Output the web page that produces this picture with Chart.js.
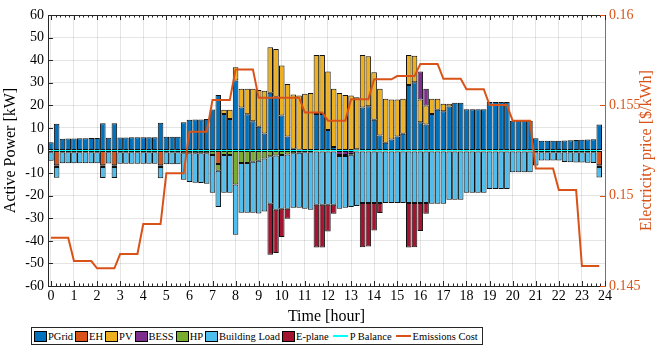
<!DOCTYPE html>
<html>
<head>
<meta charset="utf-8">
<script src="https://cdn.jsdelivr.net/npm/chart.js@4.4.1/dist/chart.umd.min.js"></script>
<style>
  body { margin: 0; background: #fff; }
  #wrap { position: relative; width: 656px; height: 349px; }
  #legend {
    position: absolute; left: 31px; top: 327px; height: 18px;
    box-sizing: border-box; border: 1px solid #262626; background: #fff;
    display: flex; align-items: center; padding: 0 2px;
    font: 10.5px 'Liberation Serif', serif; white-space: nowrap; color: #000;
  }
  .item { display: flex; align-items: center; margin-right: 2px; }
  .box { width: 13px; height: 11px; box-sizing: border-box; border: 1px solid #000; margin-right: 1px; }
  .ln { width: 15px; height: 2px; margin: 0 2px 0 2px; }
</style>
</head>
<body>
<div id="wrap">
  <canvas id="chart" width="656" height="349"></canvas>
  <div id="legend"></div>
</div>
<script>
// quarter-hour time steps [hour]
const time = [
  0, 0.25, 0.5, 0.75, 1, 1.25, 1.5, 1.75,
  2, 2.25, 2.5, 2.75, 3, 3.25, 3.5, 3.75,
  4, 4.25, 4.5, 4.75, 5, 5.25, 5.5, 5.75,
  6, 6.25, 6.5, 6.75, 7, 7.25, 7.5, 7.75,
  8, 8.25, 8.5, 8.75, 9, 9.25, 9.5, 9.75,
  10, 10.25, 10.5, 10.75, 11, 11.25, 11.5, 11.75,
  12, 12.25, 12.5, 12.75, 13, 13.25, 13.5, 13.75,
  14, 14.25, 14.5, 14.75, 15, 15.25, 15.5, 15.75,
  16, 16.25, 16.5, 16.75, 17, 17.25, 17.5, 17.75,
  18, 18.25, 18.5, 18.75, 19, 19.25, 19.5, 19.75,
  20, 20.25, 20.5, 20.75, 21, 21.25, 21.5, 21.75,
  22, 22.25, 22.5, 22.75, 23, 23.25, 23.5, 23.75
];

// power flows [kW]
const pGrid = [
  3.7, 11.8, 5.2, 5.3, 5.3, 5.4, 5.4, 5.5,
  5.5, 12.1, 5.7, 12.1, 5.8, 5.8, 5.9, 5.9,
  5.9, 5.9, 5.9, 12.3, 6.1, 6.1, 6.1, 12.5,
  13.6, 13.7, 13.7, 14.0, 18.1, 24.6, 16.2, 14.0,
  31.0, 19.0, 16.0, 13.0, 10.5, 7.5, 25.6, 23.8,
  15.5, 6.2, 0.8, 0.3, 0, 0, 16.2, 16.2,
  9.1, 1.5, 0, 0, 0, 0.5, 19.0, 19.6,
  13.6, 6.6, 3.4, 4.9, 6.2, 7.4, 29.0, 30.2,
  12.5, 11.5, 16.2, 18.0, 17.4, 19.5, 21.1, 21.1,
  18.3, 18.3, 18.3, 18.3, 21.5, 21.5, 21.5, 21.5,
  13.2, 13.2, 13.2, 13.2, 5.4, 4.3, 4.3, 4.3,
  4.3, 4.4, 4.5, 4.6, 4.8, 4.9, 5.0, 11.5
];
const eh = [
  0, -6.5, 0, 0, 0, 0, 0, 0,
  0, -6.5, 0, -6.5, 0, 0, 0, 0,
  0, 0, 0, -6.5, 0, 0, 0, 0,
  0, 0, 0, 0, 0, -6.0, 0, 0,
  0, 0, 0, 0, 0, 0, 0, 0,
  0, 0, 0, 0, 0, 0, 0, 0,
  0, 0, 0, 0, 0, 0, 0, 0,
  0, 0, 0, 0, 0, 0, 0, 0,
  0, 0, 0, 0, 0, 0, 0, 0,
  0, 0, 0, 0, 0, 0, 0, 0,
  0, 0, 0, 0, 0, 0, 0, 0,
  0, 0, 0, 0, 0, 0, 0, -6.5
];
const pv = [
  0, 0, 0, 0, 0, 0, 0, 0,
  0, 0, 0, 0, 0, 0, 0, 0,
  0, 0, 0, 0, 0, 0, 0, 0,
  0, 0, 0, 0, 0, 0, 1.8, 4.0,
  5.9, 8.3, 11.3, 14.3, 16.3, 19.0, 20.1, 21.2,
  22.1, 23.3, 24.0, 24.0, 25.1, 25.5, 26.1, 26.1,
  25.9, 25.8, 25.5, 24.6, 24.3, 23.1, 23.3, 22.1,
  21.0, 20.7, 19.5, 17.7, 16.4, 15.5, 13.3, 11.8,
  10.1, 8.4, 6.7, 4.9, 3.3, 1.2, 0, 0,
  0, 0, 0, 0, 0, 0, 0, 0,
  0, 0, 0, 0, 0, 0, 0, 0,
  0, 0, 0, 0, 0, 0, 0, 0
];
const bess = [
  0, 0, 0, 0, 0, 0, 0, 0,
  0, 0, 0, 0, 0, 0, 0, 0,
  0, 0, 0, 0, 0, 0, 0, 0,
  0, 0, 0, 0, 0, 0, 0, 0,
  0, 0, 0, 0, 0, 0, 0, 0,
  0, 0, 0, 0, 0, 0, 0, 0,
  0, 0, -2.0, -2.0, -1.5, 0, 0, 0,
  0, 0, 0, 0, 0, 0, 0, 0,
  12.4, 7.4, 0, 0, 0, 0, 0, 0,
  0, 0, 0, 0, 0, 0, 0, 0,
  0, 0, 0, 0, 0, 0, 0, 0,
  0, 0, 0, 0, 0, 0, 0, 0
];
const hp = [
  -0.8, -0.8, -0.8, -0.8, -0.8, -0.8, -0.8, -0.8,
  -0.8, -0.8, -0.8, -0.8, -0.8, -0.8, -0.8, -0.8,
  -0.8, -0.8, -0.8, -0.8, -0.8, -0.8, -0.8, -1.2,
  -1.2, -1.2, -1.2, -1.2, -2.0, -3.0, -2.0, -2.0,
  -15.0, -5.5, -5.5, -5.0, -4.5, -3.5, -2.5, -2.2,
  -2.0, -1.8, -1.2, -1.0, -0.8, -0.8, -0.4, -0.4,
  -0.4, -0.4, -0.4, -0.4, -0.4, -0.4, -0.4, -0.4,
  -0.4, -0.4, -0.4, -0.4, -0.4, -0.4, -0.4, -0.4,
  -0.4, -0.4, -0.4, -0.4, -0.4, -0.4, -0.4, -0.4,
  -0.4, -0.4, -0.4, -0.4, -0.4, -0.4, -0.4, -0.4,
  -0.4, -0.4, -0.4, -0.4, -0.8, -0.8, -0.8, -0.8,
  -0.8, -0.8, -0.8, -0.8, -0.8, -0.8, -0.8, -0.8
];
const buildingLoad = [
  -3.7, -4.8, -4.8, -4.8, -4.8, -4.8, -4.8, -4.8,
  -4.8, -4.9, -5.0, -4.9, -5.1, -5.1, -5.1, -5.1,
  -5.1, -5.1, -5.1, -5.0, -5.3, -5.3, -5.3, -11.8,
  -12.8, -13.1, -13.2, -13.5, -16.7, -16.0, -16.7, -16.7,
  -22.3, -22.1, -22.1, -22.6, -23.4, -23.5, -21.1, -24.0,
  -23.8, -24.0, -24.2, -24.4, -25.0, -25.4, -23.6, -23.6,
  -23.6, -23.6, -23.4, -23.0, -23.1, -24.2, -22.9, -22.9,
  -22.9, -22.9, -22.9, -22.9, -22.9, -22.9, -22.9, -22.9,
  -22.9, -22.9, -23.2, -23.2, -23.2, -21.4, -21.4, -21.4,
  -18.3, -18.3, -18.3, -18.3, -16.6, -16.6, -16.6, -16.6,
  -9.2, -9.2, -9.2, -9.2, -5.8, -3.6, -3.6, -3.6,
  -3.6, -4.3, -4.4, -4.5, -4.5, -4.6, -4.7, -4.7
];
const ePlane = [
  0, 0, 0, 0, 0, 0, 0, 0,
  0, 0, 0, 0, 0, 0, 0, 0,
  0, 0, 0, 0, 0, 0, 0, 0,
  0, 0, 0, 0, 0, 0, 0, 0,
  0, 0, 0, 0, 0, 0, -22.6, -19.2,
  -12.5, -4.4, 0, 0, 0, 0, -19.0, -19.0,
  -11.9, -4.0, 0, 0, 0, 0, -19.5, -19.2,
  -12.1, -4.4, 0, 0, 0, 0, -19.7, -19.5,
  -12.4, -4.7, 0, 0, 0, 0, 0, 0,
  0, 0, 0, 0, 0, 0, 0, 0,
  0, 0, 0, 0, 0, 0, 0, 0,
  0, 0, 0, 0, 0, 0, 0, 0
];
const pBalance = [
  0, 0, 0, 0, 0, 0, 0, 0, 0, 0, 0, 0, 0, 0, 0, 0,
  0, 0, 0, 0, 0, 0, 0, 0, 0, 0, 0, 0, 0, 0, 0, 0,
  0, 0, 0, 0, 0, 0, 0, 0, 0, 0, 0, 0, 0, 0, 0, 0,
  0, 0, 0, 0, 0, 0, 0, 0, 0, 0, 0, 0, 0, 0, 0, 0,
  0, 0, 0, 0, 0, 0, 0, 0, 0, 0, 0, 0, 0, 0, 0, 0,
  0, 0, 0, 0, 0, 0, 0, 0, 0, 0, 0, 0, 0, 0, 0, 0
];
// electricity price [$/kWh]
const price = [
  0.14767, 0.14767, 0.14767, 0.14767, 0.14638, 0.14638, 0.14638, 0.14638,
  0.14598, 0.14598, 0.14598, 0.14598, 0.14677, 0.14677, 0.14677, 0.14677,
  0.14843, 0.14843, 0.14843, 0.14843, 0.15124, 0.15124, 0.15124, 0.15124,
  0.15354, 0.15354, 0.15354, 0.15354, 0.15530, 0.15530, 0.15530, 0.15530,
  0.15699, 0.15699, 0.15699, 0.15699, 0.15542, 0.15542, 0.15542, 0.15542,
  0.15542, 0.15542, 0.15542, 0.15542, 0.15461, 0.15461, 0.15461, 0.15461,
  0.15415, 0.15415, 0.15415, 0.15415, 0.15533, 0.15533, 0.15533, 0.15533,
  0.15644, 0.15644, 0.15644, 0.15644, 0.15662, 0.15662, 0.15662, 0.15662,
  0.15729, 0.15729, 0.15729, 0.15729, 0.15647, 0.15647, 0.15647, 0.15647,
  0.15589, 0.15589, 0.15589, 0.15589, 0.15502, 0.15502, 0.15502, 0.15502,
  0.15415, 0.15415, 0.15415, 0.15415, 0.15151, 0.15151, 0.15151, 0.15151,
  0.15031, 0.15031, 0.15031, 0.15031, 0.14611, 0.14611, 0.14611, 0.14611
];

const hourTicks = [0, 1, 2, 3, 4, 5, 6, 7, 8, 9, 10, 11, 12, 13, 14, 15, 16, 17, 18, 19, 20, 21, 22, 23, 24];
const priceTicks = [0.145, 0.15, 0.155, 0.16];

const SERIF = "'Liberation Serif', serif";
const ORANGE = '#D95319';

function barSet(label, data, color) {
  return {
    type: 'bar', label: label, data: data,
    backgroundColor: color, borderColor: '#111', borderWidth: 1,
    borderSkipped: false, barPercentage: 0.96, categoryPercentage: 1,
    yAxisID: 'y', order: 2
  };
}

// inward ticks, top frame and right axis title (MATLAB style box)
const frame = {
  id: 'frame',
  afterDraw(chart) {
    const { ctx, chartArea: a } = chart;
    const xs = chart.scales.x, ys = chart.scales.y, y2 = chart.scales.y2;
    ctx.save();
    ctx.lineWidth = 1;
    ctx.strokeStyle = '#262626';
    ctx.beginPath();
    ctx.moveTo(a.left, a.top + 0.5);
    ctx.lineTo(a.right, a.top + 0.5);
    for (let k = 0; k <= 120; k++) {
      const px = Math.round(xs.getPixelForValue(k / 5)) + 0.5;
      const len = k % 5 === 0 ? 5 : 2.5;
      ctx.moveTo(px, a.bottom);
      ctx.lineTo(px, a.bottom - len);
      ctx.moveTo(px, a.top);
      ctx.lineTo(px, a.top + len);
    }
    for (let v = -60; v <= 60; v += 10) {
      const py = Math.round(ys.getPixelForValue(v)) + 0.5;
      ctx.moveTo(a.left, py);
      ctx.lineTo(a.left + 5, py);
    }
    ctx.stroke();
    ctx.strokeStyle = ORANGE;
    ctx.beginPath();
    priceTicks.forEach(v => {
      const py = Math.round(y2.getPixelForValue(v)) + 0.5;
      ctx.moveTo(a.right, py);
      ctx.lineTo(a.right - 5, py);
    });
    ctx.stroke();
    ctx.fillStyle = ORANGE;
    ctx.font = '16px ' + SERIF;
    ctx.textAlign = 'center';
    ctx.textBaseline = 'middle';
    ctx.translate(647, (a.top + a.bottom) / 2);
    ctx.rotate(-Math.PI / 2);
    ctx.fillText('Electricity price [$/kWh]', 0, 0);
    ctx.restore();
  }
};

const ctx = document.getElementById('chart').getContext('2d');
const chart = new Chart(ctx, {
  data: {
    labels: time,
    datasets: [
      barSet('PGrid', pGrid, '#0072BD'),
      barSet('EH', eh, '#D95319'),
      barSet('PV', pv, '#EDB120'),
      barSet('BESS', bess, '#7E2F8E'),
      barSet('HP', hp, '#77AC30'),
      barSet('Building Load', buildingLoad, '#4DBEEE'),
      barSet('E-plane', ePlane, '#A2142F'),
      {
        type: 'line', label: 'P Balance', data: pBalance,
        borderColor: '#00FFFF', borderWidth: 1, pointRadius: 0,
        yAxisID: 'y', stack: 'balance', order: 1
      },
      {
        type: 'line', label: 'Emissions Cost', data: price,
        borderColor: ORANGE, borderWidth: 2, pointRadius: 0, tension: 0,
        yAxisID: 'y2', order: 0
      }
    ]
  },
  options: {
    responsive: false,
    animation: false,
    layout: { padding: { top: 15, bottom: 23, left: 0, right: 0 } },
    plugins: {
      legend: { display: false },
      tooltip: { enabled: false }
    },
    scales: {
      x: {
        type: 'linear', position: 'bottom', stacked: true, offset: false,
        min: -0.125, max: 24,
        afterFit(s) { s.height = 40; },
        afterBuildTicks(s) { s.ticks = hourTicks.map(v => ({ value: v })); },
        ticks: { color: '#000', font: { family: SERIF, size: 14 }, padding: 2, maxRotation: 0, autoSkip: false },
        grid: { color: 'rgba(0,0,0,0.1)', drawTicks: false, offset: false },
        border: { color: '#262626' },
        title: { display: true, text: 'Time [hour]', color: '#000', font: { family: SERIF, size: 16 }, padding: 0 }
      },
      y: {
        position: 'left', stacked: true, min: -60, max: 60,
        afterFit(s) { s.width = 48; },
        ticks: { stepSize: 10, color: '#000', font: { family: SERIF, size: 14 }, padding: 4 },
        grid: { color: 'rgba(0,0,0,0.1)', drawTicks: false },
        border: { color: '#262626' },
        title: { display: true, text: 'Active Power [kW]', color: '#000', font: { family: SERIF, size: 16 }, padding: { top: 1, bottom: 0 } }
      },
      y2: {
        position: 'right', min: 0.145, max: 0.16,
        afterFit(s) { s.width = 51; },
        afterBuildTicks(s) { s.ticks = priceTicks.map(v => ({ value: v })); },
        ticks: { color: ORANGE, font: { family: SERIF, size: 14 }, padding: 4, callback: v => String(+v.toFixed(3)) },
        grid: { drawOnChartArea: false, drawTicks: false },
        border: { color: ORANGE }
      }
    }
  },
  plugins: [frame]
});

// legend built from the datasets
const legendEl = document.getElementById('legend');
chart.data.datasets.forEach(ds => {
  const item = document.createElement('div');
  item.className = 'item';
  const sw = document.createElement('div');
  if (ds.type === 'bar') {
    sw.className = 'box';
    sw.style.background = ds.backgroundColor;
  } else {
    sw.className = 'ln';
    sw.style.background = ds.borderColor;
  }
  item.appendChild(sw);
  item.appendChild(document.createTextNode(ds.label));
  legendEl.appendChild(item);
});
</script>
</body>
</html>
